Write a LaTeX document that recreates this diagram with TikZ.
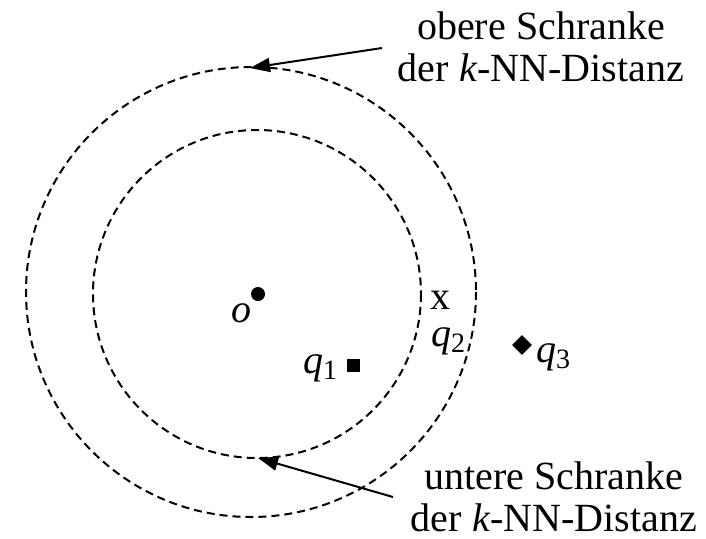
\documentclass[tikz,border=0pt]{standalone}
\usepackage{fontspec}
\setmainfont{Liberation Serif}
\usetikzlibrary{arrows.meta,shapes.geometric}
\newcommand\qlbl[2]{\textit{#1}\raisebox{-0.35ex}{\fontsize{14}{14}\selectfont #2}}
\begin{document}
\begin{tikzpicture}[x=0.5pt,y=-0.5pt,
  ring/.style={line width=1pt,dash pattern=on 4pt off 2.5pt},
  pointer/.style={line width=1pt,-{Triangle[length=10pt,width=7pt]}},
  txt/.style={inner sep=0pt,anchor=base,font=\fontsize{20}{21}\selectfont},
  lbl/.style={inner sep=0pt,font=\fontsize{20}{21}\selectfont,text height=1ex,text depth=0pt}]
\useasboundingbox (0,0) rectangle (706,538);
% circles
\draw[ring] (251,292) circle[radius=225];
\draw[ring] (257,294) circle[radius=164];
% points
\node[fill,circle,minimum size=7pt,inner sep=0pt] (o) at (258,294) {};
\node[lbl,anchor=base] (olbl) at (241,322) {\textit{o}};
\node[lbl,anchor=base] (x2) at (440,309) {x};
\node[lbl,anchor=base] (q2) at (448,346) {\qlbl{q}{2}};
\node[fill,minimum size=6.5pt,inner sep=0pt] (sq) at (353,365) {};
\node[lbl,anchor=base] (q1) at (320,373) {\qlbl{q}{1}};
\node[fill,diamond,minimum size=10pt,inner sep=0pt] (dm) at (522,345) {};
\node[lbl,anchor=base] (q3) at (553,362) {\qlbl{q}{3}};
% labels
\node[txt] (t1) at (541,39) {obere Schranke};
\node[txt] (t2) at (541,81) {der \textit{k}-NN-Distanz};
\node[txt] (b1) at (554,489) {untere Schranke};
\node[txt] (b2) at (554,531) {der \textit{k}-NN-Distanz};
% arrows
\coordinate (ua) at (382,48);
\coordinate (ub) at (250,68);
\coordinate (la) at (393,497);
\coordinate (lb) at (258,458);
\draw[pointer] (ua) -- (ub);
\draw[pointer] (la) -- (lb);
\end{tikzpicture}
\end{document}
